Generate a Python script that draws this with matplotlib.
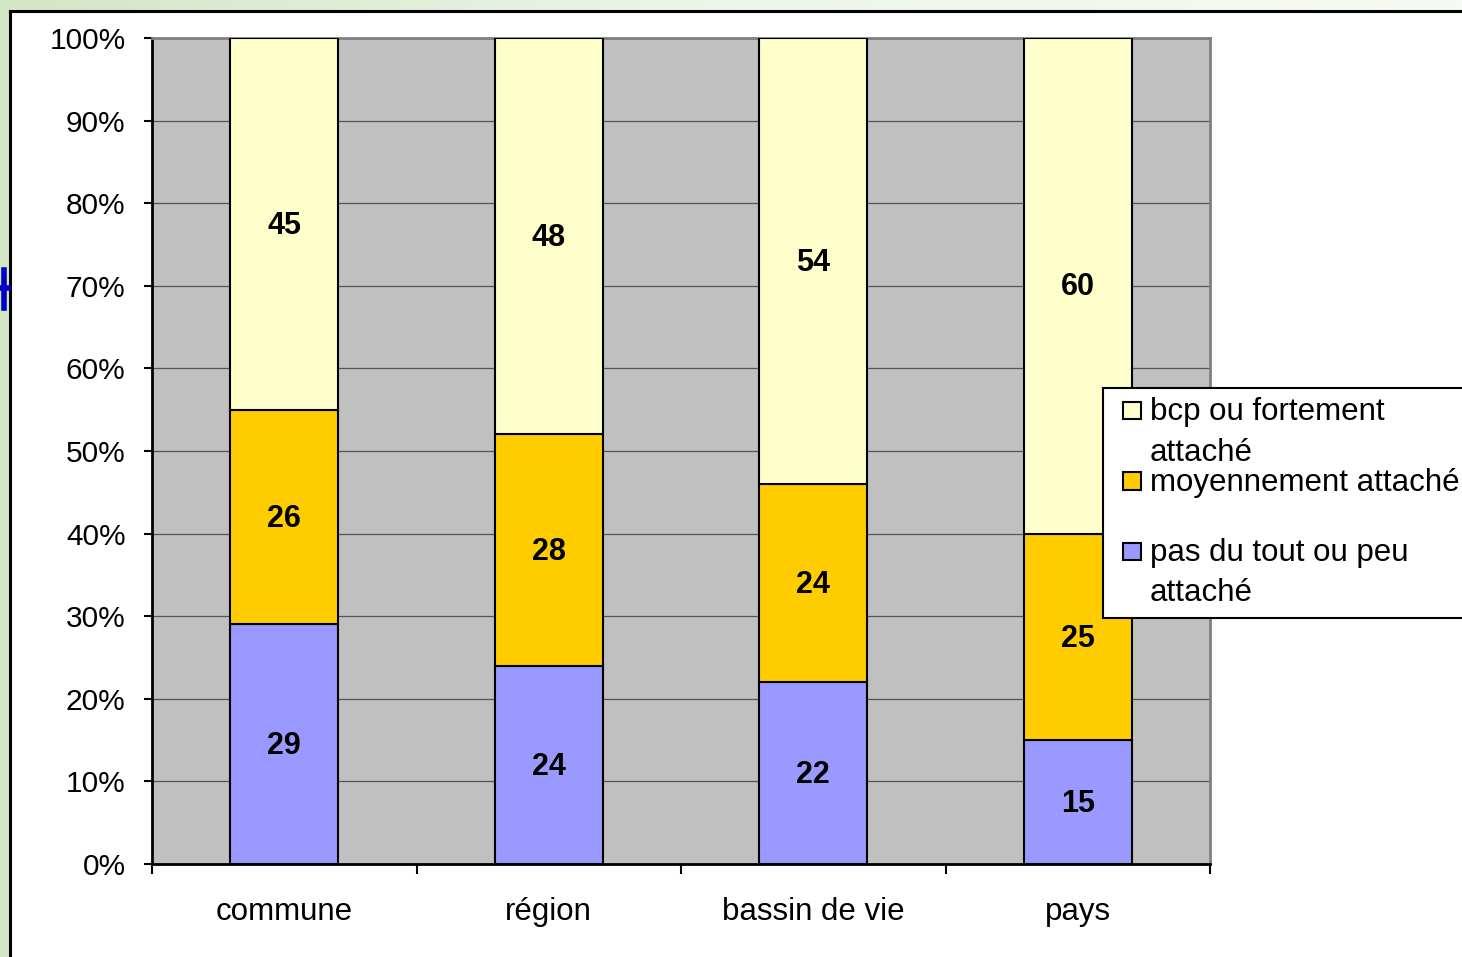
import numpy as np
import matplotlib.pyplot as plt
from matplotlib.patches import Rectangle
from matplotlib.lines import Line2D
from matplotlib.colors import LinearSegmentedColormap
from matplotlib.legend_handler import HandlerPatch

plt.rcParams['font.family'] = ['Liberation Sans', 'DejaVu Sans']

categories = ['commune', 'région', 'bassin de vie', 'pays']
peu = [29, 24, 22, 15]
moyen = [26, 28, 24, 25]
fort = [45, 48, 54, 60]

series_names = ['pas du tout ou peu\nattaché', 'moyennement attaché\n', 'bcp ou fortement\nattaché']
colors = ['#9999FF', '#FFCC00', '#FFFFCC']
y_ticks = [0, 10, 20, 30, 40, 50, 60, 70, 80, 90, 100]

W, H = 1462, 957
fig = plt.figure(figsize=(W / 100, H / 100), dpi=100)

# greenish slide background and black frame at the top left
bg = fig.add_axes([0, 0, 1, 1], zorder=-5)
grad = np.linspace(0, 1, 256).reshape(1, -1)
cmap = LinearSegmentedColormap.from_list('g', ['#d2e6c6', '#eef5ea', '#f6faf4'])
bg.imshow(grad, aspect='auto', extent=[0, 1, 0, 1], cmap=cmap)
bg.add_patch(Rectangle((9.5 / W, 0), 1, 1 - 10.5 / H, facecolor='white', edgecolor='none'))
bg.add_line(Line2D([9.5 / W, 9.5 / W], [0, 1 - 10.5 / H], color='black', lw=2.2))
bg.add_line(Line2D([9.5 / W, 1], [1 - 10.5 / H, 1 - 10.5 / H], color='black', lw=2.2))
bg.add_line(Line2D([4 / W, 4 / W], [1 - 308 / H, 1 - 270 / H], color='#0000cc', lw=4))
bg.add_line(Line2D([0, 8 / W], [1 - 288 / H, 1 - 288 / H], color='#0000cc', lw=4))
bg.set_xlim(0, 1)
bg.set_ylim(0, 1)
bg.axis('off')

ax = fig.add_axes([152 / W, 1 - 864 / H, (1210 - 152) / W, (864 - 38) / H])
ax.set_facecolor('#C0C0C0')

x = np.arange(len(categories))
bottom = np.zeros(len(categories))
for vals, col, name in zip([peu, moyen, fort], colors, series_names):
    ax.bar(x, vals, width=0.41, bottom=bottom, color=col, edgecolor='black',
           linewidth=1.5, zorder=3)
    for xi, b, v in zip(x, bottom, vals):
        ax.text(xi, b + v / 2 - 0.2, str(v), ha='center', va='center', fontsize=22,
                fontweight='bold', zorder=4)
    bottom = bottom + np.array(vals)

ax.set_xlim(-0.5, len(categories) - 0.5)
ax.set_ylim(0, 100)
ax.set_yticks(y_ticks)
ax.set_yticklabels([f'{t}%' for t in y_ticks])
ax.yaxis.grid(True, color='#555555', lw=0.9, zorder=1)
ax.set_axisbelow(True)

ax.set_xticks(np.arange(-0.5, len(categories), 1.0))
ax.set_xticklabels([])
ax.set_xticks(x, minor=True)
ax.set_xticklabels(categories, minor=True)
ax.tick_params(axis='x', which='major', length=7, width=1.5, direction='out')
ax.tick_params(axis='x', which='minor', length=0, pad=24, labelsize=22.5)
ax.tick_params(axis='y', length=6, width=1.5, pad=13, labelsize=21.5)

for s in ['left', 'bottom']:
    ax.spines[s].set_color('black')
    ax.spines[s].set_linewidth(2)
for s in ['top', 'right']:
    ax.spines[s].set_color('#808080')
    ax.spines[s].set_linewidth(2)


# legend square sits on the first text line, at the right of its box
def first_line_square(legend, orig_handle, xdescent, ydescent, width, height, fontsize):
    size = 12.5
    shift = 0.72 * fontsize
    return Rectangle((-xdescent + width - size, -ydescent + (height - size) / 2 + shift),
                     size, size)


proxies = [Rectangle((0, 0), 1, 1, facecolor=c, edgecolor='black', linewidth=1.5)
           for c in colors]
leg = fig.legend(proxies[::-1], series_names[::-1], loc='upper left',
                 bbox_to_anchor=(1103 / W, 1 - 388 / H), borderaxespad=0,
                 fontsize=22.5, frameon=True, fancybox=False, edgecolor='black',
                 handlelength=0.9, handleheight=0.7, handletextpad=0.3,
                 labelspacing=0.0, borderpad=0.3,
                 handler_map={Rectangle: HandlerPatch(patch_func=first_line_square)})
for t in leg.get_texts():
    t.set_linespacing(1.45)
leg.get_frame().set_linewidth(1.5)
leg.get_frame().set_facecolor('white')
leg.get_frame().set_alpha(1)

fig.savefig('out.png', dpi=100)
